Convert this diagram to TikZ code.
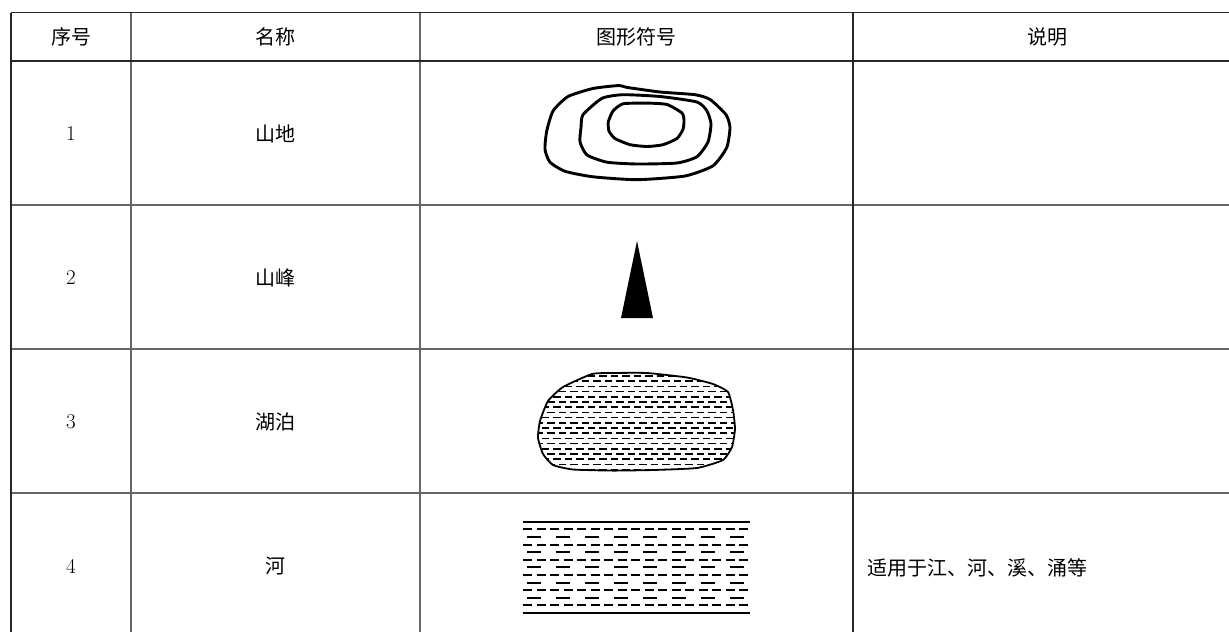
\documentclass[tikz,border=0pt]{standalone}
\usepackage{fontspec}
\newfontfamily\cjk{Noto Sans CJK SC}
\newcommand{\lakeshape}{plot[smooth cycle,tension=0.3] coordinates {(548,401) (563,387) (592,374) (613,373) (647,373) (687,377.5) (713,384) (728,392) (733,410) (735,429) (732,447) (723,460) (697,468) (653,470) (613,470.6) (573,469.5) (553,465) (543,454) (538,438) (540,421)}}

\begin{document}
\begin{tikzpicture}[x=1pt,y=-1pt,
  cjktext/.style={font=\fontsize{20}{20}\selectfont\cjk},
  numtext/.style={font=\fontsize{21}{21}\selectfont},
  darkrule/.style={line width=1.7pt,black!85},
  greyrule/.style={line width=1.4pt,black!60},
  contour/.style={line width=2.9pt,line join=round},
  lakedash/.style={line width=1.5pt,dash pattern=on 7.5pt off 4pt},
  densedash/.style={line width=2pt,dash pattern=on 9pt off 4.5pt},
  sparsedash/.style={line width=2pt,dash pattern=on 14pt off 15pt,dash phase=25pt}]
\useasboundingbox (0,0) rectangle (1229,632);

\draw[greyrule] (11,205) -- (1229,205);
\draw[greyrule] (11,349) -- (1229,349);
\draw[greyrule] (11,493) -- (1229,493);
\draw[greyrule] (131,12) -- (131,632);
\draw[greyrule] (420,12) -- (420,632);
\draw[darkrule] (11,12.5) -- (1229,12.5);
\draw[darkrule] (11,61) -- (1229,61);
\draw[darkrule] (11,12.5) -- (11,632);
\draw[darkrule] (853,12.5) -- (853,632);

\node[cjktext] (hno) at (71,37) {序号};
\node[cjktext] (hname) at (275,37) {名称};
\node[cjktext] (hsym) at (636,37) {图形符号};
\node[cjktext] (hnote) at (1047,37) {说明};

\node[numtext] (n1) at (71,134) {1};
\node[numtext] (n2) at (71,278) {2};
\node[numtext] (n3) at (71,422) {3};
\node[numtext] (n4) at (71,566) {4};

\node[cjktext] (mountain) at (275,134) {山地};
\node[cjktext] (peak) at (275,278) {山峰};
\node[cjktext] (lake) at (275,422) {湖泊};
\node[cjktext] (river) at (275,566) {河};
\node[cjktext,anchor=west] (rivernote) at (864,568) {适用于江、河、溪、涌等};

\draw[contour] plot[smooth cycle,tension=0.35] coordinates {(568,96.5) (593,88.5) (619,85.5) (627,87.4) (660,92) (695,94.7) (710,99.4) (726,114.7) (730,127.5) (726.7,147.6) (713,165.8) (685,176) (637,179.7) (593,176.8) (565,171.3) (550,162.2) (545,149.4) (546.7,131.2) (553,111)};
\draw[contour] plot[smooth cycle,tension=0.35] coordinates {(583,114.7) (602,98.3) (623,94.7) (660,96.5) (697,102) (707,111) (711,124) (708,142) (697,156.7) (677,163) (637,164) (607,162.2) (587,155) (580,142) (581,127.5)};
\draw[contour] plot[smooth cycle,tension=0.35] coordinates {(613,111) (623,103.8) (647,103.1) (667,104.5) (682,113) (684,120.2) (683,129.3) (677,138.5) (663,144.7) (647,146.5) (630,144.7) (615,138.5) (609,131.2) (608.3,122)};

\fill (637,241) -- (653,318) -- (621,318) -- cycle;

\begin{scope}
\clip \lakeshape;
\foreach \y in {376,386.4,...,472} \draw[lakedash] (530,\y) -- (740,\y);
\foreach \y in {381.2,391.6,...,472} \draw[lakedash,dash phase=5.7pt] (530,\y) -- (740,\y);
\end{scope}
\draw[line width=1.8pt,line join=round] \lakeshape;

\draw[line width=2pt] (523,521.7) -- (750,521.7);
\draw[line width=2pt] (523,613) -- (750,613);
\foreach \y in {529.3,544.5,...,606} \draw[densedash] (523,\y) -- (750,\y);
\foreach \y in {536.9,552.1,...,600} \draw[sparsedash] (523,\y) -- (750,\y);
\end{tikzpicture}
\end{document}
